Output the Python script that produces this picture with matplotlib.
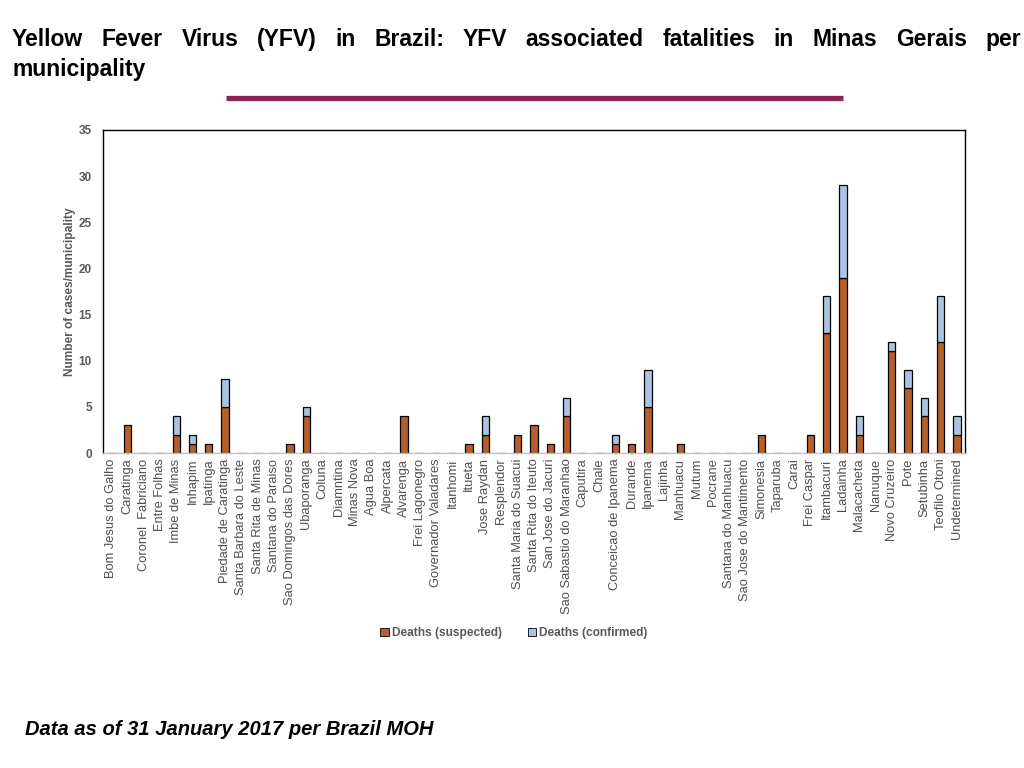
import matplotlib
matplotlib.use("Agg")
import matplotlib.pyplot as plt
from matplotlib.patches import Patch
from matplotlib import font_manager

municipalities = [
    "Bom Jesus do Galho", "Caratinga", "Coronel  Fabriciano", "Entre Folhas",
    "Imbe de Minas", "Inhapim", "Ipatinga", "Piedade de Caratinga",
    "Santa Barbara do Leste", "Santa Rita de Minas", "Santana do Paraiso",
    "Sao Domingos das Dores", "Ubaporanga", "Coluna", "Diamntina", "Minas Nova",
    "Agua Boa", "Alpercata", "Alvarenga", "Frei Lagonegro", "Governador Valadares",
    "Itanhomi", "Itueta", "Jose Raydan", "Resplendor", "Santa Maria do Suacui",
    "Santa Rita do Iteuto", "San Jose do Jacuri", "Sao Sabastio do Maranhao",
    "Caputira", "Chale", "Conceicao de Ipanema", "Durande", "Ipanema", "Lajinha",
    "Manhuacu", "Mutum", "Pocrane", "Santana do Manhuacu", "Sao Jose do Mantimento",
    "Simonesia", "Taparuba", "Carai", "Frei Caspar", "Itambacuri", "Ladainha",
    "Malacacheta", "Nanuque", "Novo Cruzeiro", "Pote", "Setubinha", "Teofilo Otoni",
    "Undetermined",
]
deaths_suspected = [
    0, 3, 0, 0, 2, 1, 1, 5, 0, 0, 0, 1, 4, 0, 0, 0, 0, 0, 4, 0, 0, 0, 1, 2, 0, 2,
    3, 1, 4, 0, 0, 1, 1, 5, 0, 1, 0, 0, 0, 0, 2, 0, 0, 2, 13, 19, 2, 0, 11, 7, 4,
    12, 2,
]
deaths_confirmed = [
    0, 0, 0, 0, 2, 1, 0, 3, 0, 0, 0, 0, 1, 0, 0, 0, 0, 0, 0, 0, 0, 0, 0, 2, 0, 0,
    0, 0, 2, 0, 0, 1, 0, 4, 0, 0, 0, 0, 0, 0, 0, 0, 0, 0, 4, 10, 2, 0, 1, 2, 2,
    5, 2,
]
yticks = [0, 5, 10, 15, 20, 25, 30, 35]

SUSP = "#B5602B"
CONF = "#A9C3E1"
GREY = "#595959"

avail = {f.name for f in font_manager.fontManager.ttflist}
narrow = "Liberation Sans Narrow" if "Liberation Sans Narrow" in avail else "Liberation Sans"
plt.rcParams['font.family'] = ['Liberation Sans', 'DejaVu Sans']

W, H = 1024, 768
fig = plt.figure(figsize=(W / 100, H / 100), dpi=100)
ax = fig.add_axes([103 / W, 1 - 453 / H, (965 - 103) / W, (453 - 130) / H])

x = list(range(len(municipalities)))
ax.bar(x, deaths_suspected, width=0.45, color=SUSP, edgecolor="black",
       linewidth=0.9, label="Deaths (suspected)")
nz_x = [i for i in x if deaths_confirmed[i] > 0]
ax.bar(nz_x, [deaths_confirmed[i] for i in nz_x],
       bottom=[deaths_suspected[i] for i in nz_x], width=0.45, color=CONF,
       edgecolor="black", linewidth=0.9, label="Deaths (confirmed)")

ax.set_xlim(-0.5, len(municipalities) - 0.5)
ax.set_ylim(0, 35)
ax.set_yticks(yticks)
ax.set_yticklabels([str(v) for v in yticks], fontsize=8.5, fontweight="bold", color=GREY)
ax.set_xticks(x)
ax.set_xticklabels(municipalities, rotation=90, fontsize=9.3, color="#505050")
ax.tick_params(axis="both", length=0, pad=4)
ax.tick_params(axis="y", pad=8)
for s in ["left", "top", "right"]:
    ax.spines[s].set_color("black")
    ax.spines[s].set_linewidth(1.0)
ax.spines["bottom"].set_color("#BFBFBF")
ax.spines["bottom"].set_linewidth(1.0)
ax.set_ylabel("Number of cases/municipality", fontsize=8.6, fontweight="bold",
              color=GREY, labelpad=2)

handles = [Patch(facecolor=SUSP, edgecolor="black", linewidth=0.6),
           Patch(facecolor=CONF, edgecolor="black", linewidth=0.6)]
leg = fig.legend(handles, ["Deaths (suspected)", "Deaths (confirmed)"],
                 loc="center", bbox_to_anchor=(514 / W, 1 - 633 / H), ncol=2,
                 frameon=False, handlelength=0.7, handleheight=0.7,
                 handletextpad=0.25, columnspacing=2.2,
                 prop={"size": 8.6, "weight": "bold"})
for t in leg.get_texts():
    t.set_color(GREY)

# Justified title line 1
line1 = "Yellow Fever Virus (YFV) in Brazil: YFV associated fatalities in Minas Gerais per".split()
tkw = dict(fontsize=16.5, fontweight="bold", family=[narrow, 'Liberation Sans'],
           color="black", va="baseline", ha="left")
texts = [fig.text(0, 1 - 46 / H, w, **tkw) for w in line1]
fig.canvas.draw()
r = fig.canvas.get_renderer()
widths = [t.get_window_extent(r).width for t in texts]
left, right = 12, 1021
gap = (right - left - sum(widths)) / (len(line1) - 1)
pos = left
for t, w in zip(texts, widths):
    t.set_x(pos / W)
    pos += w + gap
fig.text(12 / W, 1 - 76 / H, "municipality", **tkw)

# decorative rule
fig.add_artist(plt.Line2D([226 / W, 843 / W], [1 - 98 / H, 1 - 98 / H],
                          color="#8B2457", linewidth=3.8, solid_capstyle="butt"))

fig.text(25 / W, 1 - 735 / H, "Data as of 31 January 2017 per Brazil MOH",
         fontsize=14.5, fontweight="bold", fontstyle="italic", color="black")

fig.savefig("out.png", dpi=100)
